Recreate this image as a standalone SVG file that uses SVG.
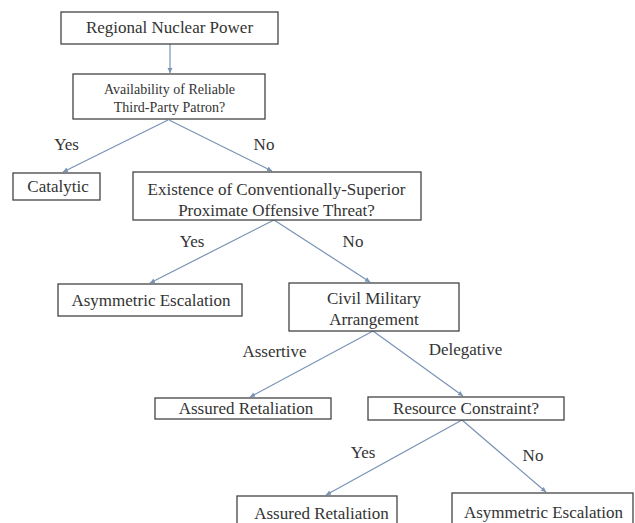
<svg xmlns="http://www.w3.org/2000/svg" width="635" height="523" viewBox="0 0 635 523">
<defs>
<style>
.box{fill:#fff;stroke:#444;stroke-width:1.3}
.t{font-family:'Liberation Serif','Times New Roman',serif;fill:#333;text-anchor:middle;font-size:17px}
.t2{font-family:'Liberation Serif','Times New Roman',serif;fill:#333;text-anchor:middle;font-size:14px}
.e{stroke:#7893b5;stroke-width:1.2;fill:none;marker-end:url(#ah)}
.l{font-family:'Liberation Serif','Times New Roman',serif;fill:#333;font-size:17px;text-anchor:middle}
</style>
<marker id="ah" markerWidth="6" markerHeight="6" refX="5" refY="3" orient="auto" markerUnits="userSpaceOnUse">
<path d="M0,0.5 L5,3 L0,5.5 Z" fill="#7893b5"/>
</marker>
</defs>
<rect width="635" height="523" fill="#fff"/>
<g id="connectors">
<line class="e" x1="170" y1="44" x2="170" y2="73"/>
<line class="e" x1="168" y1="120" x2="63" y2="172"/>
<line class="e" x1="169" y1="120" x2="272" y2="171"/>
<line class="e" x1="274" y1="220" x2="150" y2="283"/>
<line class="e" x1="274" y1="220" x2="370" y2="282"/>
<line class="e" x1="373" y1="331" x2="250" y2="397"/>
<line class="e" x1="373" y1="331" x2="463" y2="396"/>
<line class="e" x1="462" y1="420" x2="326" y2="495"/>
<line class="e" x1="462" y1="420" x2="546" y2="492"/>
<text class="l" x="66.5" y="150">Yes</text>
<text class="l" x="264" y="150">No</text>
<text class="l" x="192" y="247">Yes</text>
<text class="l" x="353" y="247">No</text>
<text class="l" x="274.5" y="357">Assertive</text>
<text class="l" x="465.5" y="355">Delegative</text>
<text class="l" x="363" y="458">Yes</text>
<text class="l" x="533" y="461">No</text>
</g>
<g id="n1"><rect class="box" x="61" y="12" width="217" height="32"/><text class="t" x="169.5" y="33">Regional Nuclear Power</text></g>
<g id="n2"><rect class="box" x="73" y="74" width="192" height="45"/><text class="t2" x="169.5" y="94">Availability of Reliable</text><text class="t2" x="169.5" y="112">Third-Party Patron?</text></g>
<g id="n3"><rect class="box" x="13" y="173" width="87" height="27"/><text class="t" x="58" y="192">Catalytic</text></g>
<g id="n4"><rect class="box" x="133" y="172" width="288" height="48"/><text class="t" x="276.5" y="195">Existence of Conventionally-Superior</text><text class="t" x="276.5" y="216">Proximate Offensive Threat?</text></g>
<g id="n5"><rect class="box" x="58" y="284" width="184" height="32"/><text class="t" x="151" y="306">Asymmetric Escalation</text></g>
<g id="n6"><rect class="box" x="289" y="283" width="170" height="48"/><text class="t" x="374" y="304">Civil Military</text><text class="t" x="374" y="325">Arrangement</text></g>
<g id="n7"><rect class="box" x="155" y="398" width="176" height="21"/><text class="t" x="246" y="414">Assured Retaliation</text></g>
<g id="n8"><rect class="box" x="368" y="397" width="196" height="23"/><text class="t" x="466" y="414">Resource Constraint?</text></g>
<g id="n9"><rect class="box" x="237" y="496" width="160" height="30"/><text class="t" x="321.5" y="519">Assured Retaliation</text></g>
<g id="n10"><rect class="box" x="452" y="493" width="181" height="33"/><text class="t" x="543.5" y="518">Asymmetric Escalation</text></g>
</svg>
